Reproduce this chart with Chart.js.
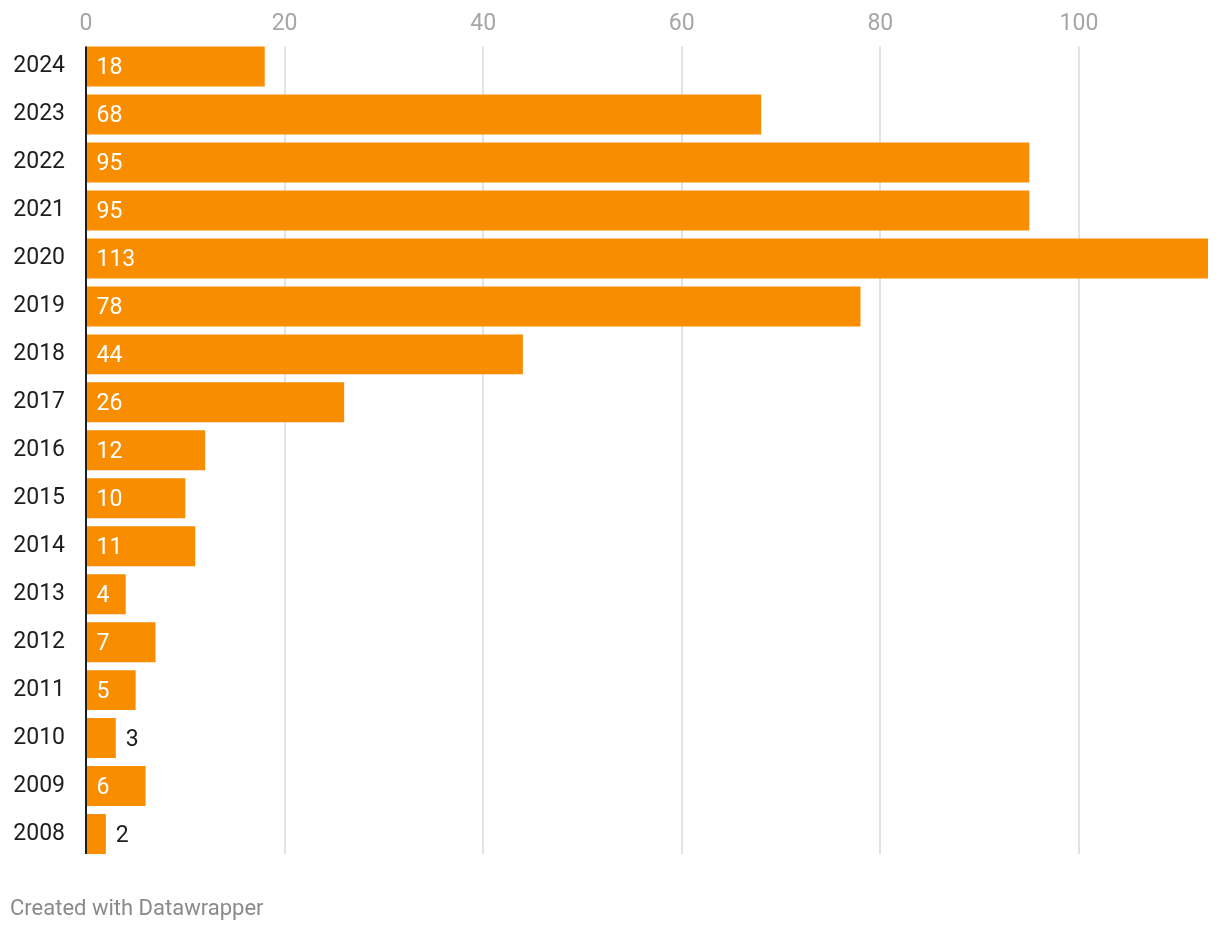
<!DOCTYPE html>
<html>
<head>
<meta charset="utf-8">
<script src="https://cdn.jsdelivr.net/npm/chart.js@4.4.1/dist/chart.umd.min.js"></script>
<style>
  html, body { margin: 0; padding: 0; background: #fff; }
  #wrap { position: relative; width: 1220px; height: 930px; }
  #footer {
    position: absolute; left: 10px; top: 895px;
    font-family: Roboto, sans-serif; font-size: 22px; color: #8a8a8a;
  }
</style>
</head>
<body>
<div id="wrap">
  <canvas id="chart"></canvas>
  <div id="footer">Created with Datawrapper</div>
</div>
<script>
const years = ['2024', '2023', '2022', '2021', '2020', '2019', '2018', '2017', '2016',
               '2015', '2014', '2013', '2012', '2011', '2010', '2009', '2008'];
const counts = [18, 68, 95, 95, 113, 78, 44, 26, 12, 10, 11, 4, 7, 5, 3, 6, 2];
const xTicks = [0, 20, 40, 60, 80, 100];
const xMax = 113;

const ORANGE = '#f98d00';
const DARK = '#1d1d1d';
const FONT_SIZE = 23;

Chart.defaults.font.family = 'Roboto';

// grid lines only from first bar top to last bar bottom, plus black zero line
const gridPlugin = {
  id: 'dwGrid',
  beforeDatasetsDraw(chart) {
    const { ctx, scales: { x } } = chart;
    const bars = chart.getDatasetMeta(0).data;
    const top = bars[0].y - bars[0].height / 2;
    const bottom = bars[bars.length - 1].y + bars[bars.length - 1].height / 2;
    ctx.save();
    ctx.strokeStyle = '#e3e3e3';
    ctx.lineWidth = 2;
    xTicks.forEach(v => {
      if (v === 0) return;
      const px = Math.round(x.getPixelForValue(v));
      ctx.beginPath();
      ctx.moveTo(px, top);
      ctx.lineTo(px, bottom);
      ctx.stroke();
    });
    ctx.restore();
  },
  afterDatasetsDraw(chart) {
    const { ctx, scales: { x } } = chart;
    const bars = chart.getDatasetMeta(0).data;
    const top = bars[0].y - bars[0].height / 2;
    const bottom = bars[bars.length - 1].y + bars[bars.length - 1].height / 2;
    const px = x.getPixelForValue(0);

    // value labels
    ctx.save();
    ctx.font = FONT_SIZE + 'px Roboto';
    ctx.textBaseline = 'middle';
    ctx.textAlign = 'left';
    bars.forEach((bar, i) => {
      const txt = String(counts[i]);
      const w = ctx.measureText(txt).width;
      const barW = bar.x - bar.base;
      if (w + 22 <= barW) {
        ctx.fillStyle = '#ffffff';
        ctx.fillText(txt, bar.base + 10.5, bar.y + 2);
      } else {
        ctx.fillStyle = DARK;
        ctx.fillText(txt, bar.x + 10, bar.y + 2);
      }
    });

    ctx.strokeStyle = DARK;
    ctx.lineWidth = 2;
    ctx.beginPath();
    ctx.moveTo(px, top);
    ctx.lineTo(px, bottom);
    ctx.stroke();
    ctx.restore();
  }
};

new Chart(document.getElementById('chart'), {
  type: 'bar',
  data: {
    labels: years,
    datasets: [{
      data: counts,
      backgroundColor: ORANGE,
      borderWidth: 0,
      barPercentage: 40 / 48,
      categoryPercentage: 1
    }]
  },
  options: {
    indexAxis: 'y',
    responsive: true,
    maintainAspectRatio: false,
    animation: false,
    layout: { padding: { top: 5, left: 12, right: 12, bottom: 72 } },
    plugins: {
      legend: { display: false },
      tooltip: { enabled: false }
    },
    scales: {
      x: {
        position: 'top',
        min: 0,
        max: xMax,
        afterBuildTicks: s => { s.ticks = xTicks.map(v => ({ value: v })); },
        grid: { display: false, drawTicks: false },
        border: { display: false },
        ticks: {
          color: '#a6a6a6',
          font: { size: FONT_SIZE },
          padding: 5,
          maxRotation: 0
        }
      },
      y: {
        grid: { display: false, drawTicks: false },
        border: { display: false },
        afterFit: s => { s.width = 74; },
        ticks: {
          color: DARK,
          font: { size: FONT_SIZE },
          padding: 21
        }
      }
    }
  },
  plugins: [gridPlugin]
});
</script>
</body>
</html>
